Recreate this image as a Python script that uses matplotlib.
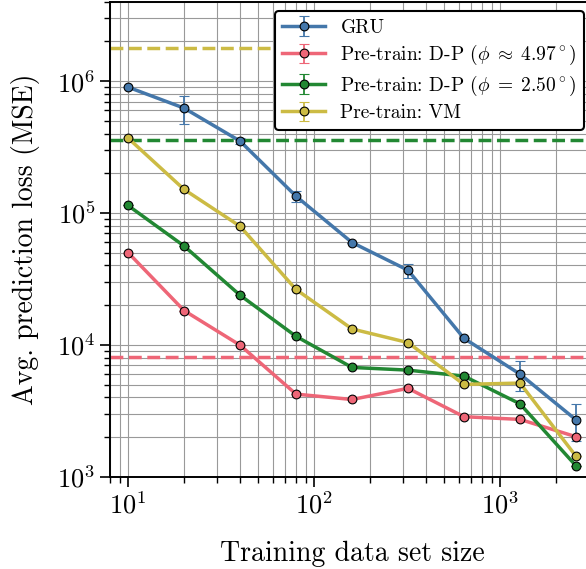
import numpy as np
import matplotlib
matplotlib.use("Agg")
import matplotlib.pyplot as plt

plt.rcParams['font.family'] = 'serif'
plt.rcParams['font.serif'] = ['cmr10']
plt.rcParams['mathtext.fontset'] = 'cm'
plt.rcParams['axes.formatter.use_mathtext'] = True
plt.rcParams['axes.unicode_minus'] = False

sizes = [10, 20, 40, 80, 160, 320, 640, 1280, 2560]

gru = [9.0e5, 6.24e5, 3.51e5, 1.34e5, 5.97e4, 3.68e4, 1.12e4, 6.0e3, 2.70e3]
gru_err = [0, 1.5e5, 2.0e4, 1.2e4, 0, 4.5e3, 0, 1.5e3, 8.5e2]

dp497 = [5.01e4, 1.82e4, 9.95e3, 4.23e3, 3.85e3, 4.68e3, 2.85e3, 2.72e3, 2.01e3]
dp250 = [1.14e5, 5.62e4, 2.38e4, 1.16e4, 6.74e3, 6.43e3, 5.79e3, 3.57e3, 1.21e3]
vm = [3.70e5, 1.51e5, 7.93e4, 2.63e4, 1.32e4, 1.04e4, 5.01e3, 5.13e3, 1.43e3]

zero_err = [0] * len(sizes)

baseline_dp497 = 8.04e3
baseline_dp250 = 3.60e5
baseline_vm = 1.79e6

labels = ["GRU",
          r"Pre-train: D-P ($\phi\;\approx\;4.97^\circ$)",
          r"Pre-train: D-P ($\phi\;=\;2.50^\circ$)",
          "Pre-train: VM"]
colors = ["#4477AA", "#EE6677", "#228833", "#CCBB44"]

fig = plt.figure(figsize=(5.86, 5.69), dpi=100)
ax = fig.add_axes([110/586, (569-476.7)/569, (594-110)/586, (476.7-1.7)/569])

series = [(gru, gru_err), (dp497, zero_err), (dp250, zero_err), (vm, zero_err)]
for (vals, err), lab, c in zip(series, labels, colors):
    ax.errorbar(sizes, vals, yerr=err, color=c, lw=2.5, marker='o', ms=6.3,
                mec='black', mew=0.8, mfc=c, capsize=3.5, elinewidth=1.3,
                capthick=1.3, label=lab, zorder=3)

for b, c in zip([baseline_dp497, baseline_dp250, baseline_vm], colors[1:]):
    ax.axhline(b, color=c, lw=2.5, ls='--', zorder=2)

ax.set_xscale('log')
ax.set_yscale('log')
ax.set_xlim(8, 3200)
ax.set_ylim(1e3, 4e6)

ax.grid(True, which='both', color='#999999', lw=0.8, zorder=0)
ax.set_axisbelow(True)
for s in ax.spines.values():
    s.set_linewidth(1.4)
ax.tick_params(which='major', length=7, width=1.2, labelsize=19)
ax.tick_params(which='minor', length=4, width=1.0)

ax.set_xlabel("Training data set size", fontsize=20, labelpad=16)
ax.set_ylabel("Avg. prediction loss (MSE)", fontsize=20, labelpad=12)

leg = ax.legend(loc='upper right', fontsize=14.0, framealpha=1, edgecolor='black',
                fancybox=True, borderaxespad=0.5, labelspacing=0.33,
                handlelength=2.2, borderpad=0.38, handletextpad=0.8)
leg.get_frame().set_linewidth(1.5)

fig.savefig("out.png", dpi=100)
